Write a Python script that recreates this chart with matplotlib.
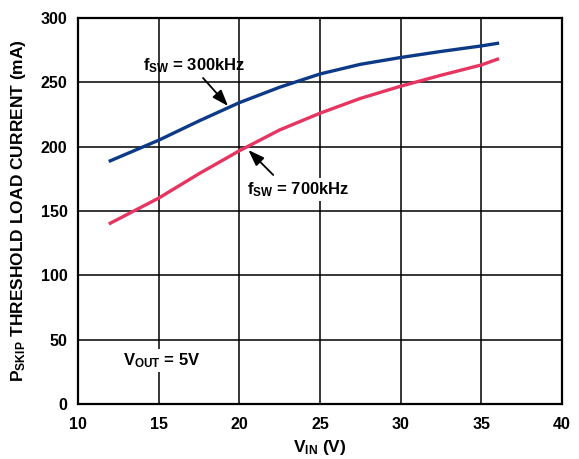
import matplotlib
matplotlib.use('Agg')
from matplotlib import pyplot as plt

# Data
vin = [12, 15, 17.5, 20, 22.5, 25, 27.5, 30, 32.5, 35, 36]
i_300k = [189, 205, 220, 234.2, 246.2, 256.5, 264, 269.3, 274, 278.3, 280.3]
i_700k = [140.5, 160, 179, 196.8, 213, 226, 237.5, 247, 255.5, 263.5, 268]

x_ticks = [10, 15, 20, 25, 30, 35, 40]
y_ticks = [0, 50, 100, 150, 200, 250, 300]

plt.rcParams['font.family'] = ['Liberation Sans', 'DejaVu Sans']
plt.rcParams['font.weight'] = 'bold'
plt.rcParams['mathtext.fontset'] = 'custom'
plt.rcParams['mathtext.rm'] = 'Liberation Sans:bold'
plt.rcParams['mathtext.bf'] = 'Liberation Sans:bold'
plt.rcParams['mathtext.it'] = 'Liberation Sans:bold'

fig = plt.figure(figsize=(5.79, 4.59), dpi=100)
ax = fig.add_axes([78 / 579, 1 - 404 / 459, 484 / 579, 386 / 459])

ax.plot(vin, i_300k, c='#0d3a87', lw=2.4, solid_joinstyle='round', zorder=3)
ax.plot(vin, i_700k, c='#e63560', lw=2.4, solid_joinstyle='round', zorder=3)

ax.set_xlim(10, 40)
ax.set_ylim(0, 300)
ax.set_xticks(x_ticks)
ax.set_yticks(y_ticks)
ax.tick_params(length=0, labelsize=11.5)
ax.tick_params(axis='y', pad=7.5)
ax.tick_params(axis='x', pad=9.5)
for lbl in ax.get_xticklabels() + ax.get_yticklabels():
    lbl.set_fontweight('bold')
ax.grid(c='black', lw=1.1)
for s in ax.spines.values():
    s.set_linewidth(1.6)

ax.set_xlabel(r'V$_{\rm IN}$ (V)', fontsize=12.5, fontweight='bold', labelpad=4.5)
ax.set_ylabel(r'P$_{\rm SKIP}$ THRESHOLD LOAD CURRENT (mA)', fontsize=12.5,
              fontweight='bold', labelpad=9)

# Annotations
box = dict(boxstyle='square,pad=0.15', fc='white', ec='none')
arrow = dict(arrowstyle='-|>,head_length=0.7,head_width=0.25', color='black',
             lw=1.3, shrinkA=0, shrinkB=0, mutation_scale=14)
ax.text(14.03, 259.6, r'f$_{\rm SW}$ = 300kHz', fontsize=12, fontweight='bold',
        va='baseline', ha='left', zorder=4)
ax.annotate('', xy=(19.3, 231.6), xytext=(17.75, 253.4), arrowprops=arrow, zorder=4)
ax.text(20.45, 163.2, r'f$_{\rm SW}$ = 700kHz', fontsize=12, fontweight='bold',
        va='baseline', ha='left', bbox=box, zorder=4)
ax.annotate('', xy=(20.56, 197.4), xytext=(22.1, 178), arrowprops=arrow, zorder=4)
ax.text(12.8, 30.3, r'V$_{\rm OUT}$ = 5V', fontsize=12, fontweight='bold',
        va='baseline', ha='left', bbox=box, zorder=4)

fig.savefig('out.png', dpi=100)
